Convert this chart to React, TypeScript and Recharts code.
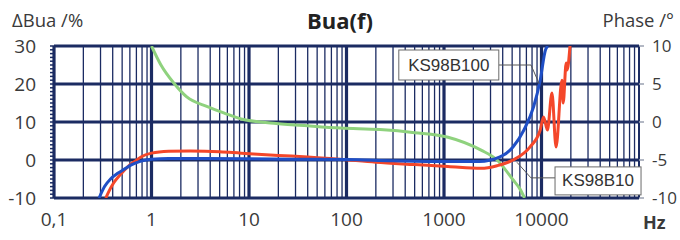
import React from 'react';
import { LineChart, Line, XAxis, YAxis, ReferenceLine, ReferenceDot } from 'recharts';

// ---- data ----
const freqTicks = [0.1, 1, 10, 100, 1000, 10000];
const decadeLines = [0.1, 1, 10, 100, 1000, 10000, 100000];
const minorMultipliers = [2, 3, 4, 5, 6, 7, 8, 9];
const leftMajor = [-10, 0, 10, 20, 30];
const rightTicks = [-10, -5, 0, 5, 10];

// KS98B100 (blue), ΔBua %
const blueF = [0.29, 0.33, 0.38, 0.45, 0.52, 0.62, 0.78, 1.0, 1.5, 3, 10, 30, 100, 300, 1000, 2300, 3750, 5100, 6600, 8300, 9700, 11000, 11600];
const blueV = [-10, -7, -5, -3.5, -2.5, -1.3, -0.3, 0.2, 0.4, 0.4, 0.3, 0.2, 0.1, -0.2, -0.4, -0.4, 0.8, 3.4, 7.9, 14, 21, 29, 30];

// KS98B10 (red), ΔBua %
const redF = [0.34, 0.37, 0.41, 0.48, 0.57, 0.68, 0.78, 1.0, 1.5, 2.5, 5, 8.3, 20, 40, 85, 200, 500, 1100, 2400, 3500, 5100, 7600, 9700, 10500, 11500, 12800, 14100, 16200, 16700, 17900, 18300, 19600];
const redV = [-10, -8, -6, -3.8, -1.8, -0.3, 0.8, 1.8, 2.3, 2.4, 2.2, 1.8, 1.2, 0.8, 0.2, -0.6, -1.2, -1.7, -2.2, -1.5, 0, 3.4, 7.9, 11.3, 7.9, 17.6, 3.4, 21, 15, 25.5, 23.7, 30];

// Phase (green), degrees
const greenF = [1.0, 1.25, 1.7, 2.3, 3.8, 5.5, 8.3, 18, 40, 87, 220, 500, 1100, 2400, 3500, 5100, 6000, 6700];
const greenV = [10, 7.5, 5.1, 3.3, 2.0, 1.2, 0.4, -0.15, -0.5, -0.8, -1.0, -1.4, -2.0, -3.7, -5.0, -7.6, -8.8, -10];

const seriesNames = ['KS98B100', 'KS98B10', 'Phase'];

const toRows = (fs: number[], vs: number[]) => fs.map((f, i) => ({ f, v: vs[i] }));
const blueData = toRows(blueF, blueV);
const redData = toRows(redF, redV);
const greenData = toRows(greenF, greenV);

const minorLines: number[] = [];
decadeLines.slice(0, -1).forEach((d) => minorMultipliers.forEach((m) => minorLines.push(+(d * m).toPrecision(3))));
const leftTicks: number[] = [];
for (let t = -10; t <= 30; t++) leftTicks.push(t);

const NAVY = '#1b2b62';
const FONT = '"Open Sans", sans-serif';
const TXT = '#3a3a3a';

const boxShape = (label: string, w: number, h: number) => (p: any) => (
  <g>
    <rect x={p.cx - w / 2} y={p.cy - h / 2} width={w} height={h} fill="#fff" stroke="#6a6a6a" strokeWidth={1} />
    <text x={p.cx} y={p.cy} textAnchor="middle" dominantBaseline="central" fontFamily='"Liberation Sans", Arial, sans-serif' fontSize={17} fill="#333">
      {label}
    </text>
  </g>
);

export default function App() {
  return (
    <div style={{ position: 'absolute', left: 0, top: 0, width: 680, height: 240, background: '#fff' }}>
      <LineChart width={680} height={240} margin={{ top: 46, right: 0, bottom: 12, left: 0 }}>
        <XAxis
          dataKey="f"
          type="number"
          scale="log"
          domain={[0.1, 100000]}
          allowDataOverflow
          ticks={freqTicks}
          interval={0}
          axisLine={false}
          tickLine={false}
          tickSize={6}
          tickMargin={9}
          height={30}
          tick={{ fontSize: 19, fill: TXT, fontFamily: FONT }}
          tickFormatter={(v: number) => (v === 0.1 ? '0,1' : String(v))}
        />
        <YAxis
          yAxisId="left"
          type="number"
          domain={[-10, 30]}
          allowDataOverflow
          ticks={leftTicks}
          interval={0}
          width={54}
          axisLine={false}
          tickLine={{ stroke: NAVY, strokeWidth: 1.5 }}
          tickSize={4}
          tickMargin={14}
          tick={{ fontSize: 19, fill: TXT, fontFamily: FONT }}
          tickFormatter={(v: number) => (v % 10 === 0 ? String(v) : '')}
        />
        <YAxis
          yAxisId="right"
          orientation="right"
          type="number"
          domain={[-10, 10]}
          allowDataOverflow
          ticks={rightTicks}
          interval={0}
          width={41}
          axisLine={false}
          tickLine={{ stroke: '#9aa0b0', strokeWidth: 1.5 }}
          tickSize={5}
          tickMargin={8}
          tick={{ fontSize: 17, fill: TXT, fontFamily: FONT, textAnchor: 'start' }}
        />
        {minorLines.map((x) => (
          <ReferenceLine key={'m' + x} x={x} yAxisId="left" stroke={NAVY} strokeWidth={1.3} ifOverflow="hidden" />
        ))}
        {leftMajor.map((y) => (
          <ReferenceLine key={'h' + y} y={y} yAxisId="left" stroke={NAVY} strokeWidth={3} />
        ))}
        {decadeLines.map((x) => (
          <ReferenceLine key={'d' + x} x={x} yAxisId="left" stroke={NAVY} strokeWidth={x === 100000 ? 2 : 3.2} />
        ))}
        <Line data={greenData} dataKey="v" name={seriesNames[2]} yAxisId="right" type="monotone" stroke="#8fd27e" strokeWidth={3} dot={false} isAnimationActive={false} />
        <Line data={redData} dataKey="v" name={seriesNames[1]} yAxisId="left" type="monotone" stroke="#f4472a" strokeWidth={3} dot={false} isAnimationActive={false} />
        <Line data={blueData} dataKey="v" name={seriesNames[0]} yAxisId="left" type="monotone" stroke="#1f4fc6" strokeWidth={3} dot={false} isAnimationActive={false} />
        <ReferenceLine yAxisId="left" segment={[{ x: 3650, y: 25 }, { x: 7800, y: 25 }]} stroke="#555" strokeWidth={1} />
        <ReferenceLine yAxisId="left" segment={[{ x: 7800, y: 25 }, { x: 9500, y: 20 }]} stroke="#555" strokeWidth={1} />
        <ReferenceLine yAxisId="left" segment={[{ x: 14100, y: -4.7 }, { x: 7800, y: -4.7 }]} stroke="#555" strokeWidth={1} />
        <ReferenceLine yAxisId="left" segment={[{ x: 7800, y: -4.7 }, { x: 5600, y: -0.6 }]} stroke="#555" strokeWidth={1} />
        <ReferenceDot yAxisId="left" x={1120} y={25} r={0} shape={boxShape(seriesNames[0], 100, 30)} />
        <ReferenceDot yAxisId="left" x={38000} y={-5.5} r={0} shape={boxShape(seriesNames[1], 86, 28)} />
      </LineChart>
      <svg width={680} height={240} style={{ position: 'absolute', left: 0, top: 0, pointerEvents: 'none' }}>
        <text x={12} y={27} fontFamily={FONT} fontSize={18.5} fill={TXT}>ΔBua /%</text>
        <text x={340} y={29} textAnchor="middle" fontFamily={FONT} fontSize={22} fontWeight="bold" fill="#222">Bua(f)</text>
        <text x={674} y={27} textAnchor="end" fontFamily={FONT} fontSize={18.5} fill={TXT}>Phase /°</text>
        <text x={643} y={229} fontFamily={FONT} fontSize={18} fontWeight="bold" fill={TXT}>Hz</text>
      </svg>
    </div>
  );
}
